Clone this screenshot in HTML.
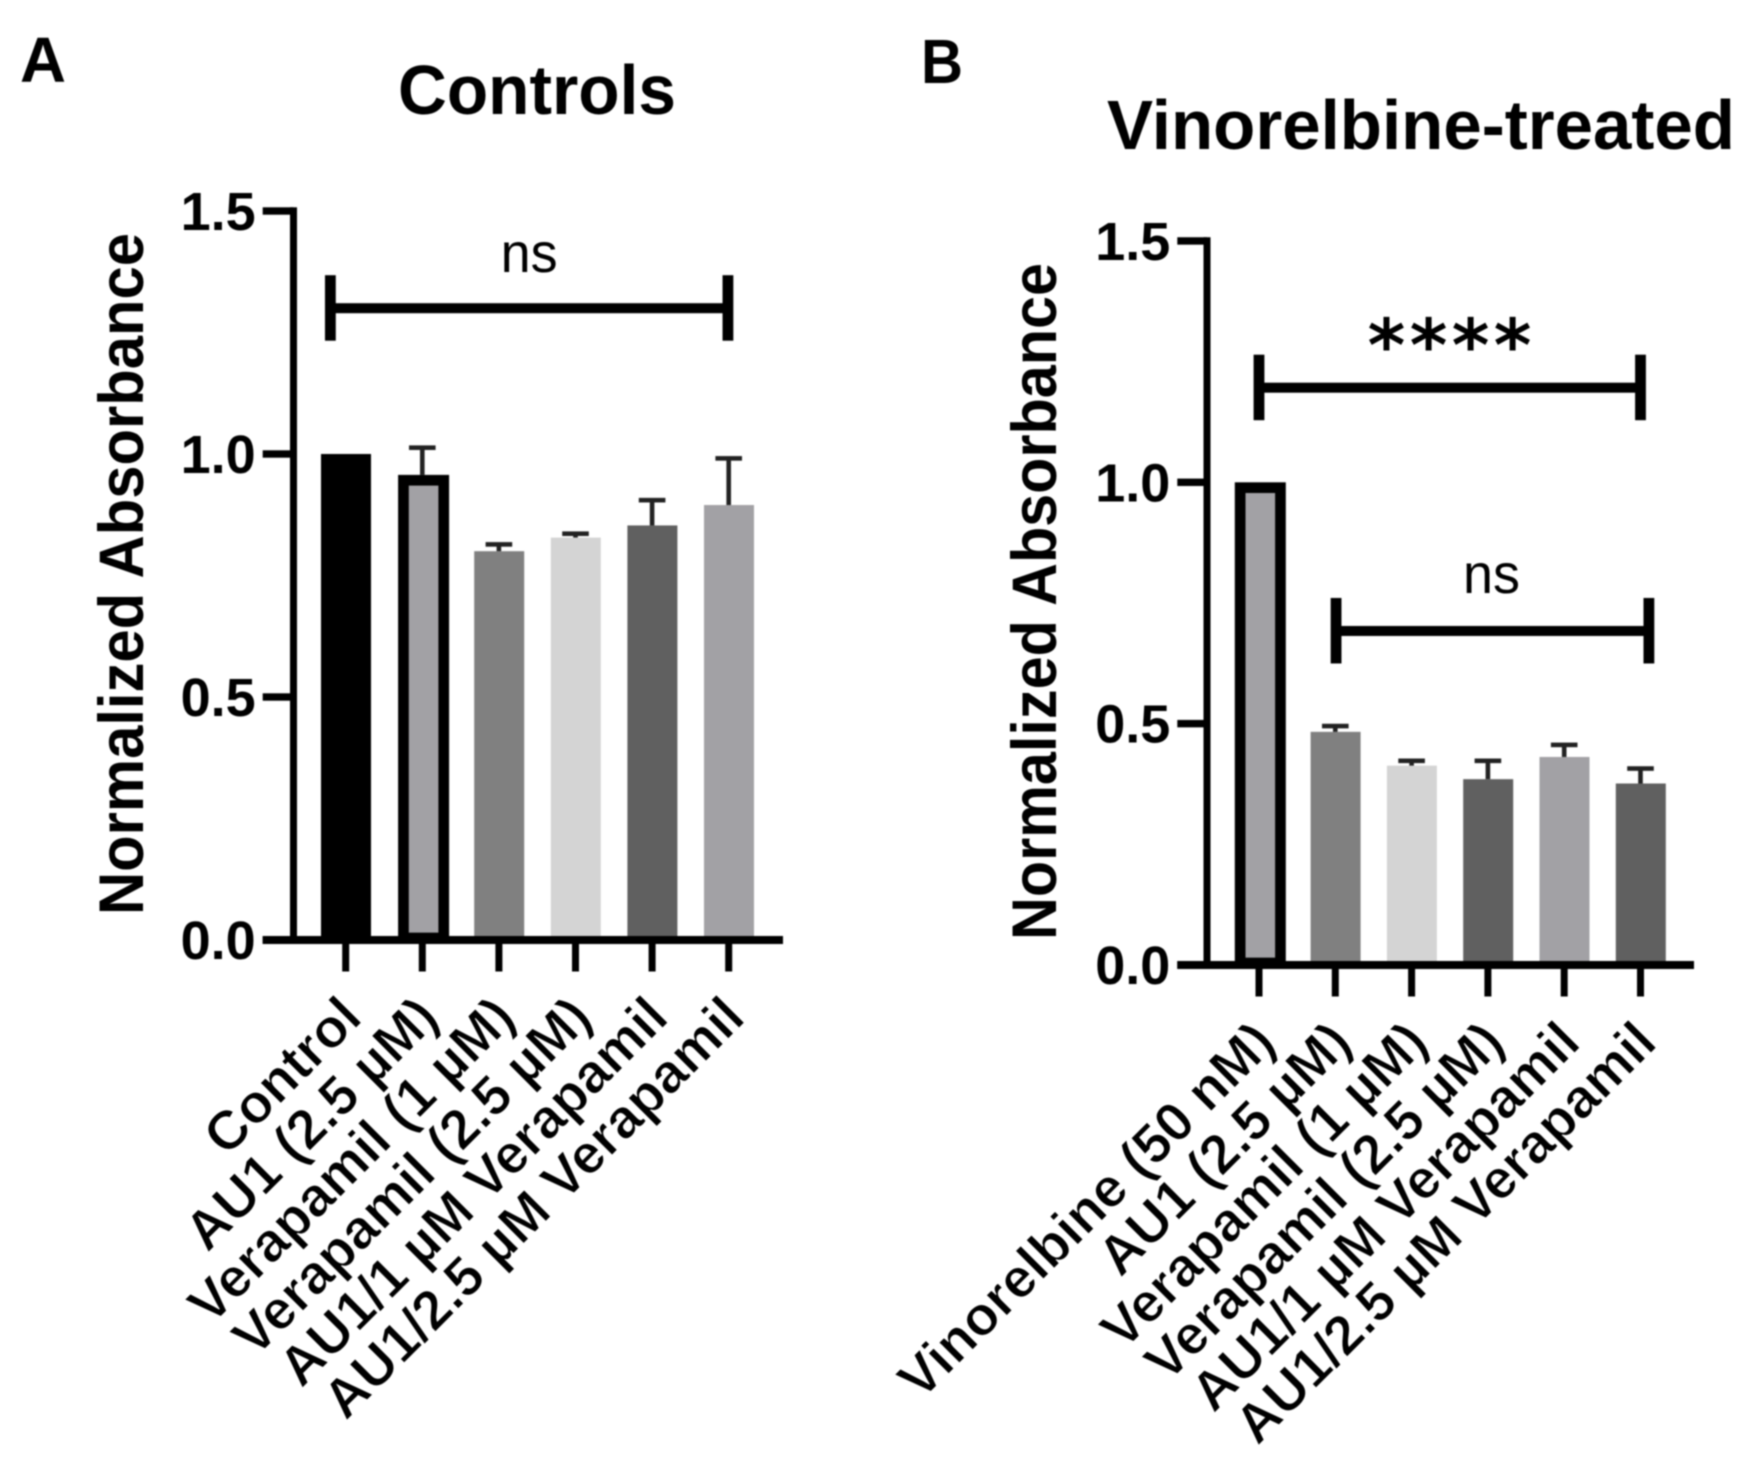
<!DOCTYPE html>
<html lang="en">
<head>
<meta charset="utf-8">
<title>Normalized absorbance: controls and vinorelbine-treated</title>
<style>
html,body{margin:0;padding:0;background:#fff;}
#figure{display:block;width:1756px;height:1460px;filter:blur(0.7px);font-family:"Liberation Sans",Arial,sans-serif;}
text{fill:#000;}
.b{font-weight:700;}
</style>
</head>
<body>
<svg id="figure" xmlns="http://www.w3.org/2000/svg" width="1756" height="1460" viewBox="0 0 1756 1460">
  <rect x="0" y="0" width="1756" height="1460" fill="#fff"/>
  <text class="b" x="20" y="82" font-size="64" textLength="46" lengthAdjust="spacingAndGlyphs">A</text>
  <text class="b" x="921" y="83" font-size="62" textLength="42" lengthAdjust="spacingAndGlyphs">B</text>
  <text class="b" x="398" y="114" font-size="70" textLength="278" lengthAdjust="spacingAndGlyphs">Controls</text>
  <text class="b" x="1107" y="149" font-size="70" textLength="628" lengthAdjust="spacingAndGlyphs">Vinorelbine-treated</text>
  <text class="b" transform="translate(143,574) rotate(-90)" text-anchor="middle" font-size="63" textLength="682" lengthAdjust="spacingAndGlyphs">Normalized Absorbance</text>
  <text class="b" transform="translate(1056,601.5) rotate(-90)" text-anchor="middle" font-size="63" textLength="677" lengthAdjust="spacingAndGlyphs">Normalized Absorbance</text>
  <g id="panel-a"></g>
  <g id="panel-b"></g>
</svg>
<script>
// Shared axis data
const yTickValues = [0, 0.5, 1, 1.5];
const yTickLabels = ['0.0', '0.5', '1.0', '1.5'];

// Panel A data
const categoriesA = ['Control', 'AU1 (2.5 µM)', 'Verapamil (1 µM)', 'Verapamil (2.5 µM)', 'AU1/1 µM Verapamil', 'AU1/2.5 µM Verapamil'];
const valuesA = [1.0, 0.957, 0.80, 0.828, 0.853, 0.895];
const errorsA = [0, 0.056, 0.014, 0.008, 0.052, 0.096];
const fillsA = ['#000000', '#a2a1a5', '#808080', '#d4d4d4', '#606060', '#a2a1a5'];
const outlinedA = [false, true, false, false, false, false];
const sigLabelsA = ['ns'];
const sigStartA = [-0.2];
const sigEndA = [4.99];
const sigLevelA = [1.3];

// Panel B data
const categoriesB = ['Vinorelbine (50 nM)', 'AU1 (2.5 µM)', 'Verapamil (1 µM)', 'Verapamil (2.5 µM)', 'AU1/1 µM Verapamil', 'AU1/2.5 µM Verapamil'];
const valuesB = [1.0, 0.483, 0.413, 0.385, 0.431, 0.376];
const errorsB = [0, 0.012, 0.010, 0.038, 0.025, 0.031];
const fillsB = ['#a2a1a5', '#808080', '#d4d4d4', '#606060', '#a2a1a5', '#606060'];
const outlinedB = [true, false, false, false, false, false];
const sigLabelsB = ['****', 'ns'];
const sigStartB = [0, 1.01];
const sigEndB = [5, 5.11];
const sigLevelB = [1.196, 0.692];

const SVGNS = 'http://www.w3.org/2000/svg';

function mk(parent, tag, attrs) {
  const el = document.createElementNS(SVGNS, tag);
  for (const k in attrs) el.setAttribute(k, attrs[k]);
  parent.appendChild(el);
  return el;
}
function slug(s) {
  return s.toLowerCase().replace(/[^a-z0-9]+/g, '-').replace(/^-|-$/g, '');
}

function drawPanel(opts) {
  const g = document.getElementById(opts.id);
  const p = opts.panel;
  const yScale = v => opts.y0 - v * opts.yUnit;
  const xScale = i => opts.x0 + i * opts.step;
  const barW = 50, ink = '#000';

  // bars and error bars
  opts.values.forEach((v, i) => {
    const cx = xScale(i) + 0.3;
    const top = yScale(v);
    const name = slug(opts.categories[i]);
    let bar;
    if (opts.outlined[i]) {
      const sw = 10.7;
      bar = mk(g, 'rect', {x: cx - barW / 2 + 0.5 + sw / 2, y: top + sw / 2, width: barW + 1 - sw, height: opts.y0 - top - sw / 2 - 2, fill: opts.fills[i], stroke: ink, 'stroke-width': sw});
    } else {
      bar = mk(g, 'rect', {x: cx - barW / 2, y: top, width: barW, height: opts.y0 - top, fill: opts.fills[i]});
    }
    
    

    if (opts.errors[i] > 0) {
      const capY = yScale(v + opts.errors[i]);
      const tx = xScale(i);
      const stem = mk(g, 'rect', {x: tx - 2.3, y: capY, width: 4.6, height: top - capY, fill: '#222'});
      
      
      const cap = mk(g, 'rect', {x: tx - 13.3, y: capY - 2.3, width: 26.6, height: 4.6, fill: '#222'});
      
      
    }
  });

  // y axis
  const yLine = mk(g, 'rect', {x: opts.axisX - 3.5, y: yScale(1.5) - 3.7, width: 7, height: opts.y0 - yScale(1.5) + 7.7, fill: ink});
  
  
  yTickValues.forEach((v, i) => {
    const ty = yScale(v);
    const tick = mk(g, 'rect', {x: opts.axisLeft, y: ty - 3.7, width: opts.axisX - opts.axisLeft, height: 7.4, fill: ink});
    
    
    const label = mk(g, 'text', {x: opts.axisLeft - 7, y: ty + 19, 'text-anchor': 'end', 'font-size': 54, 'font-weight': 700});
    label.textContent = yTickLabels[i];
    
    
  });

  // x axis
  const xLine = mk(g, 'rect', {x: opts.axisLeft, y: opts.y0 - 4, width: opts.axisRight - opts.axisLeft, height: 8, fill: ink});
  
  
  opts.categories.forEach((c, i) => {
    const tx = xScale(i);
    const tick = mk(g, 'rect', {x: tx - 3.5, y: opts.y0 + 4, width: 7, height: 27.5, fill: ink});
    
    
    const ax = tx + 18.5, ay = opts.y0 + 80;
    const label = mk(g, 'text', {transform: 'translate(' + ax + ',' + ay + ') rotate(-45)', 'text-anchor': 'end', 'font-size': 54.8, 'font-weight': 700, stroke: '#fff', 'stroke-width': 0.9});
    label.textContent = c;
    
    
  });

  // significance brackets
  opts.sigLabels.forEach((text, i) => {
    const x1 = xScale(opts.sigStart[i]), x2 = xScale(opts.sigEnd[i]);
    const ly = yScale(opts.sigLevel[i]);
    const line = mk(g, 'rect', {x: x1, y: ly - 5, width: x2 - x1, height: 10, fill: ink});
    
    
    const capL = mk(g, 'rect', {x: x1 - 5.4, y: ly - 33, width: 10.8, height: 65.5, fill: ink});
    
    
    const capR = mk(g, 'rect', {x: x2 - 5.4, y: ly - 33, width: 10.8, height: 65.5, fill: ink});
    
    
    const mid = (x1 + x2) / 2;
    let label;
    if (text === 'ns') {
      label = mk(g, 'text', {x: mid + opts.nsShift, y: ly + opts.nsDrop, 'text-anchor': 'middle', 'font-size': 56, textLength: 57, lengthAdjust: 'spacingAndGlyphs'});
    } else {
      label = mk(g, 'text', {x: mid + 2, y: ly - 17, 'text-anchor': 'middle', 'font-size': 72, 'font-weight': 700, 'letter-spacing': 4.4, style: 'font-family:"DejaVu Sans",sans-serif'});
    }
    label.textContent = text;
    
    
  });
}

drawPanel({
  id: 'panel-a', panel: 'a',
  categories: categoriesA, values: valuesA, errors: errorsA, fills: fillsA, outlined: outlinedA,
  sigLabels: sigLabelsA, sigStart: sigStartA, sigEnd: sigEndA, sigLevel: sigLevelA,
  y0: 940, yUnit: 486, x0: 345.7, step: 76.6, axisX: 293.5, axisLeft: 262.7, axisRight: 783, nsShift: 0, nsDrop: -36
});
drawPanel({
  id: 'panel-b', panel: 'b',
  categories: categoriesB, values: valuesB, errors: errorsB, fills: fillsB, outlined: outlinedB,
  sigLabels: sigLabelsB, sigStart: sigStartB, sigEnd: sigEndB, sigLevel: sigLevelB,
  y0: 965, yUnit: 482.7, x0: 1259, step: 76.3, axisX: 1207, axisLeft: 1177.3, axisRight: 1694, nsShift: -1, nsDrop: -38
});
</script>
</body>
</html>
